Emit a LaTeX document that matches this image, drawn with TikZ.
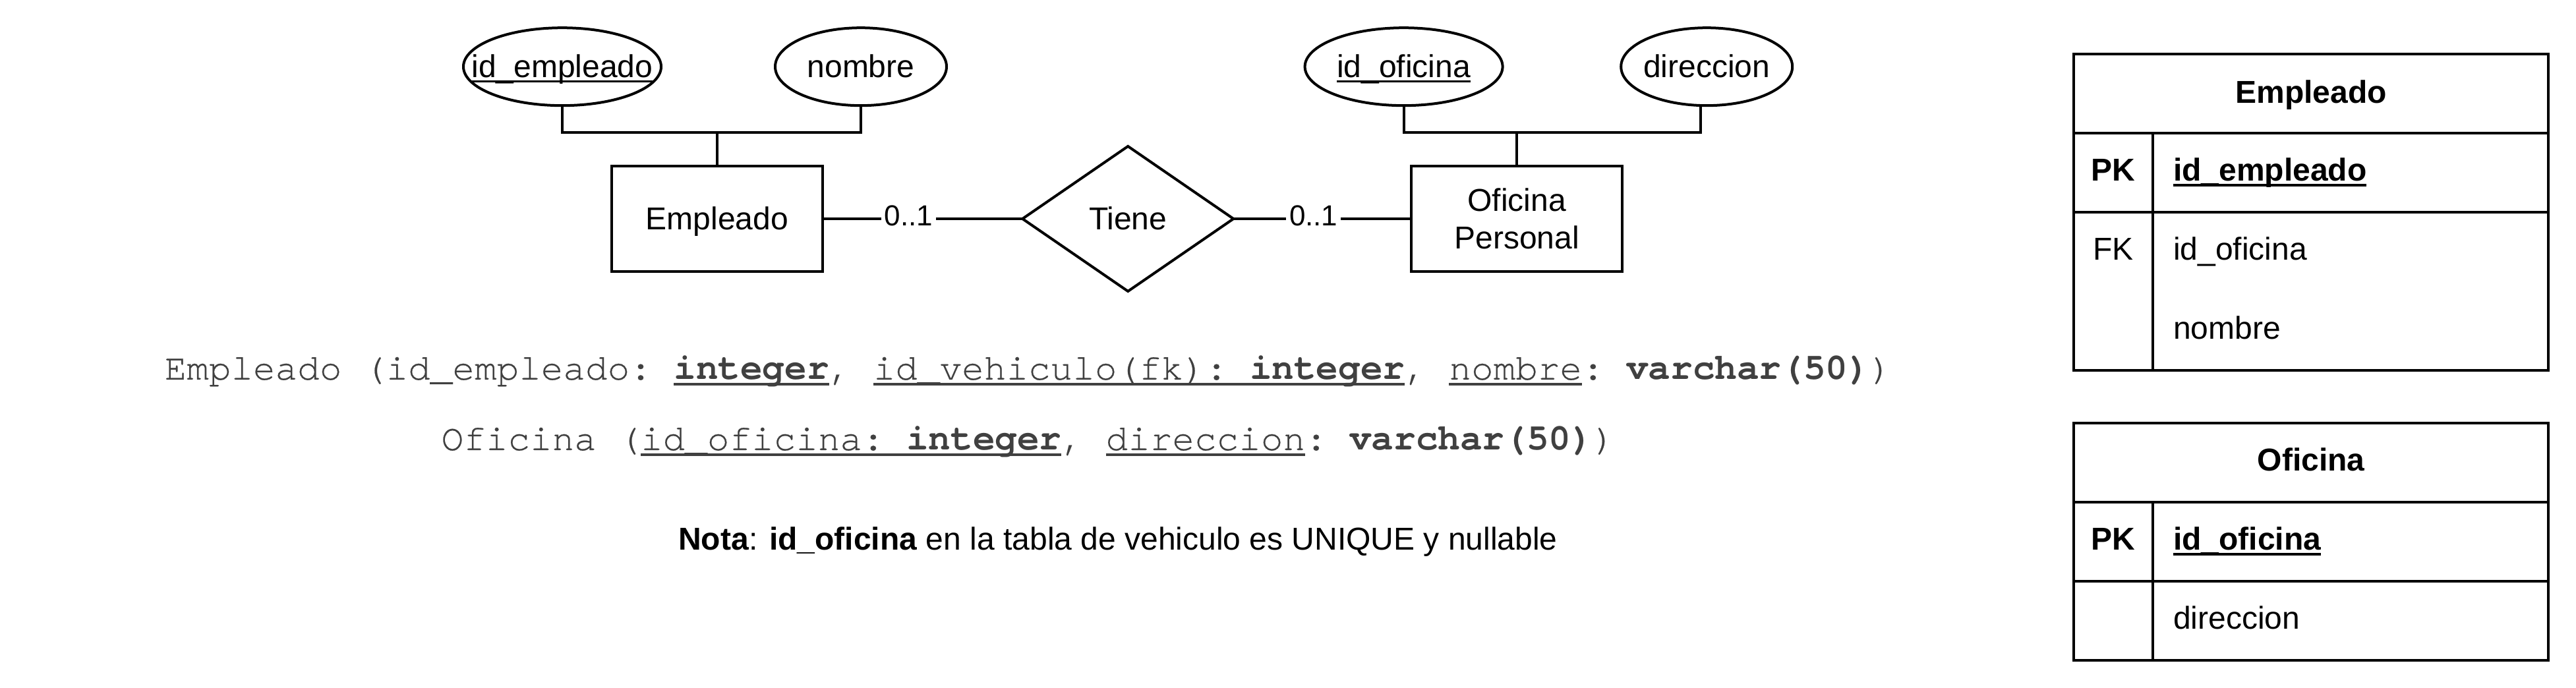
\documentclass[tikz,border=0pt]{standalone}
\usepackage{fontspec}
\setmainfont{Liberation Sans}
\setmonofont[Ligatures=NoCommon,UprightFeatures={FakeBold=0.4}]{TeX Gyre Cursor}
\usetikzlibrary{shapes.geometric}
\definecolor{monogray}{RGB}{64,64,64}
\newcommand\ulsans[1]{\setbox0=\hbox{#1}\rlap{\rule[-1.9pt]{\wd0}{0.8pt}}\box0}
\newcommand\ulmono[1]{\setbox0=\hbox{#1}\rlap{\rule[-2.15pt]{\wd0}{0.8pt}}\box0}
\begin{document}
\begin{tikzpicture}[x=1pt,y=-1pt,line width=1pt,
  every node/.style={outer sep=0pt,inner sep=0pt},
  erfont/.style={font=\fontsize{12}{14.4}\selectfont},
  onerow/.style={text height=8.3pt,text depth=0pt},
  entitybox/.style={draw,rectangle,minimum width=80pt,minimum height=40pt,erfont},
  attr/.style={draw,ellipse,minimum height=29.5pt,erfont,onerow},
  relbox/.style={draw,diamond,minimum width=80pt,minimum height=55pt,aspect=1.4545,erfont,onerow},
  card/.style={fill=white,font=\fontsize{11}{13.2}\selectfont,inner xsep=1.2pt,inner ysep=1pt,text height=5.5pt,text depth=0pt},
  monotxt/.style={font=\ttfamily\fontsize{14}{16.8}\selectfont,text=monogray},
  tabtxt/.style={font=\fontsize{12}{14.4}\selectfont},
  tabbold/.style={font=\fontsize{12}{14.4}\selectfont\bfseries}]
\useasboundingbox (0,0) rectangle (977,261);

% ER diagram
\node[attr,minimum width=75pt] (ie) at (213.25,25.3) {\makebox[0pt]{\ulsans{id\_empleado}}};
\node[attr,minimum width=65pt] (nom) at (326.5,25.3) {\makebox[0pt]{nombre}};
\node[attr,minimum width=75pt] (io) at (532.4,25.3) {\makebox[0pt]{\ulsans{id\_oficina}}};
\node[attr,minimum width=65pt] (dir) at (647.3,25.3) {\makebox[0pt]{direccion}};

\node[entitybox,onerow] (emp) at (272,83) {Empleado};
\node[relbox] (tiene) at (427.8,83) {Tiene};
\node[entitybox,align=center] (ofi) at (575.3,83) {Oficina\\Personal};

\coordinate (j1) at (272,50.25);
\coordinate (j2) at (575.3,50.25);
\draw (ie.south) |- (j1) -| (nom.south);
\draw (j1) -- (emp.north);
\draw (io.south) |- (j2) -| ([xshift=-2.25pt]dir.south);
\draw (j2) -- (ofi.north);

\draw (emp.east) -- node[card,pos=0.43] (c1) {0..1} (tiene.west);
\draw (tiene.east) -- node[card,pos=0.45] (c2) {0..1} (ofi.west);

% relational schema
\node[monotxt,anchor=base] (r1) at (390,144) {Empleado (id\_empleado: \ulmono{\textbf{integer}}, \ulmono{id\_vehiculo(fk): \textbf{integer}}, \ulmono{nombre}: \textbf{varchar(50)})};
\node[monotxt,anchor=base] (r2) at (390,170.75) {Oficina (\ulmono{id\_oficina: \textbf{integer}}, \ulmono{direccion}: \textbf{varchar(50)})};

\node[erfont,anchor=base] (nota) at (424,208.75) {\textbf{Nota}: \textbf{id\_oficina} en la tabla de vehiculo es UNIQUE y nullable};

% table Empleado
\draw (786.5,20.5) rectangle (966.5,140.5);
\draw (786.5,50.5) -- (966.5,50.5);
\draw (786.5,80.5) -- (966.5,80.5);
\draw (816.5,50.5) -- (816.5,140.5);
\node[tabbold,anchor=base] (t1h) at (876.5,39.25) {Empleado};
\node[tabbold,anchor=base] (t1pk) at (801.5,68.75) {PK};
\node[tabbold,anchor=base west] (t1f1) at (824.25,68.75) {\ulsans{id\_empleado}};
\node[tabtxt,anchor=base] (t1fk) at (801.5,98.75) {FK};
\node[tabtxt,anchor=base west] (t1f2) at (824.25,98.75) {id\_oficina};
\node[tabtxt,anchor=base west] (t1f3) at (824.25,128.75) {nombre};

% table Oficina
\draw (786.5,160.5) rectangle (966.5,250.5);
\draw (786.5,190.5) -- (966.5,190.5);
\draw (786.5,220.5) -- (966.5,220.5);
\draw (816.5,190.5) -- (816.5,250.5);
\node[tabbold,anchor=base] (t2h) at (876.5,178.75) {Oficina};
\node[tabbold,anchor=base] (t2pk) at (801.5,208.75) {PK};
\node[tabbold,anchor=base west] (t2f1) at (824.25,208.75) {\ulsans{id\_oficina}};
\node[tabtxt,anchor=base west] (t2f2) at (824.25,238.75) {direccion};
\end{tikzpicture}
\end{document}
